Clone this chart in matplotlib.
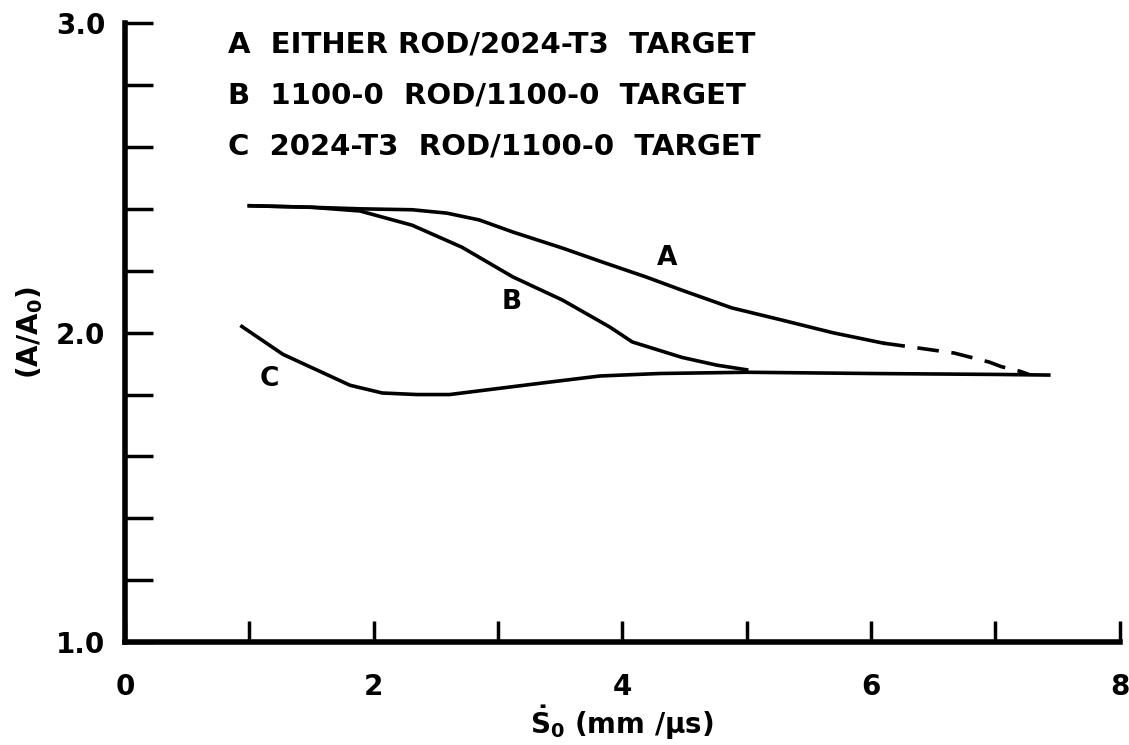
import matplotlib.pyplot as plt

# curve A (solid part, then dashed extrapolation)
a_x = [1.0, 1.5, 1.89, 2.31, 2.59, 2.85, 3.12, 3.52, 3.84, 4.19, 4.48, 4.88, 5.29, 5.69, 6.10]
a_y = [2.41, 2.405, 2.40, 2.397, 2.386, 2.364, 2.325, 2.273, 2.228, 2.18, 2.137, 2.08, 2.04, 2.00, 1.966]
a_dash_x = [6.10, 6.21, 6.67, 6.95, 7.05, 7.20, 7.27]
a_dash_y = [1.966, 1.96, 1.934, 1.905, 1.89, 1.875, 1.865]

# curve B
b_x = [1.0, 1.5, 1.89, 2.31, 2.71, 3.12, 3.52, 3.90, 4.08, 4.48, 4.76, 5.0]
b_y = [2.41, 2.405, 2.393, 2.347, 2.276, 2.18, 2.105, 2.018, 1.97, 1.92, 1.895, 1.88]

# curve C
c_x = [0.94, 1.27, 1.54, 1.81, 2.07, 2.35, 2.61, 3.01, 3.41, 3.82, 4.3, 5.0, 6.0, 7.0, 7.43]
c_y = [2.02, 1.93, 1.88, 1.83, 1.805, 1.80, 1.80, 1.82, 1.84, 1.86, 1.868, 1.872, 1.868, 1.865, 1.863]

legend_lines = ['A  EITHER ROD/2024-T3  TARGET',
                'B  1100-0  ROD/1100-0  TARGET',
                'C  2024-T3  ROD/1100-0  TARGET']

plt.rcParams['font.family'] = ['DejaVu Sans']
plt.rcParams['font.weight'] = 'bold'
plt.rcParams['mathtext.default'] = 'regular'

fig = plt.figure(figsize=(11.29, 7.45), dpi=100)
ax = fig.add_axes([0.1107, 0.138, 0.881, 0.831])

lw = 2.6
ax.plot(a_x, a_y, color='black', lw=lw)
ax.plot(a_dash_x, a_dash_y, color='black', lw=lw, dashes=(6, 3.5))
ax.plot(b_x, b_y, color='black', lw=lw)
ax.plot(c_x, c_y, color='black', lw=lw)

ax.text(4.36, 2.24, 'A', fontsize=19, fontweight='bold', ha='center', va='center')
ax.text(3.11, 2.10, 'B', fontsize=19, fontweight='bold', ha='center', va='center')
ax.text(1.16, 1.85, 'C', fontsize=19, fontweight='bold', ha='center', va='center')

for i, line in enumerate(legend_lines):
    ax.text(0.83, 2.93 - i * 0.165, line, fontsize=21, fontweight='bold', va='center', ha='left')

ax.set_xlim(0, 8)
ax.set_ylim(1.0, 3.0)

ax.set_xticks(range(0, 9))
ax.set_xticklabels(['0', '', '2', '', '4', '', '6', '', '8'])
ax.set_yticks([1.0 + 0.2 * i for i in range(11)])
ax.set_yticklabels(['1.0', '', '', '', '', '2.0', '', '', '', '', '3.0'])

ax.spines['top'].set_visible(False)
ax.spines['right'].set_visible(False)
ax.spines['left'].set_linewidth(4)
ax.spines['bottom'].set_linewidth(4)
ax.tick_params(axis='both', direction='in', width=2.5, labelsize=20)
ax.tick_params(axis='y', length=20, pad=14)
ax.tick_params(axis='x', length=15, pad=22)

ax.set_xlabel(r'$\dot{S}_0$ (mm /$\mu$s)', fontsize=20, fontweight='bold', labelpad=2)
ax.set_ylabel('(A/A$_0$)', fontsize=20, fontweight='bold', labelpad=8)

plt.savefig('out.png', dpi=100)
